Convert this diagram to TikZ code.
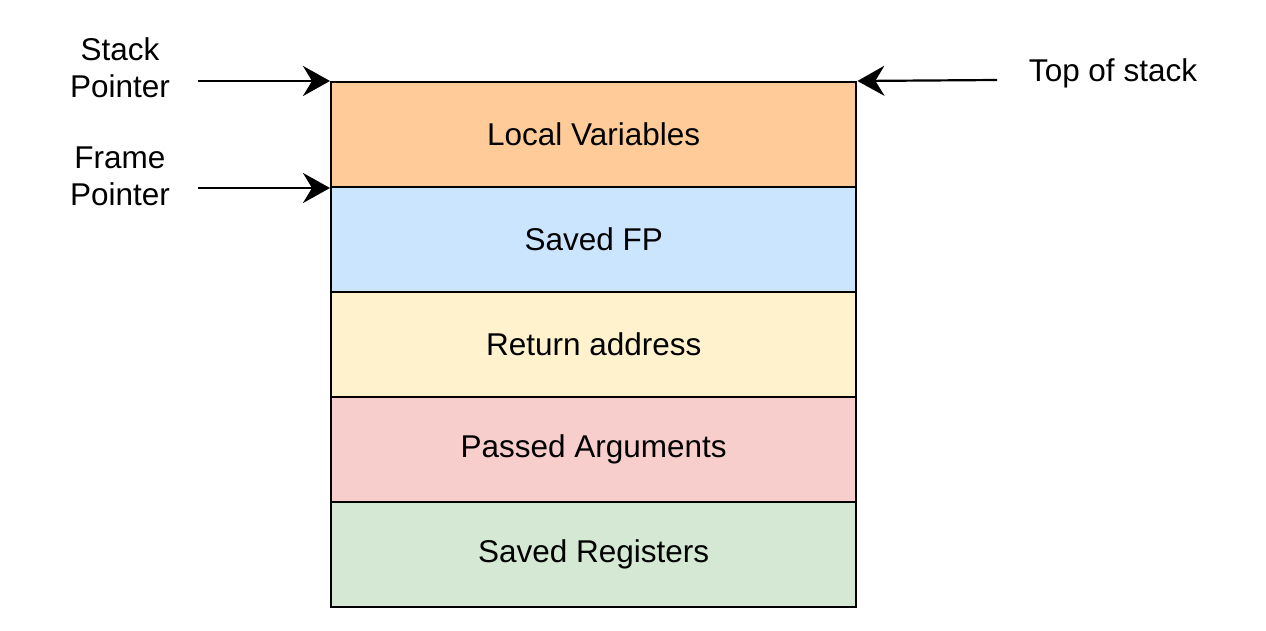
\documentclass[tikz,border=0pt]{standalone}
\usepackage{fontspec}
\setmainfont{Liberation Sans}
\usetikzlibrary{arrows.meta}
\definecolor{cLocal}{HTML}{FFCC99}
\definecolor{cFP}{HTML}{CCE5FF}
\definecolor{cRet}{HTML}{FFF2CC}
\definecolor{cArg}{HTML}{F8CECC}
\definecolor{cReg}{HTML}{D5E8D4}
\tikzset{
  frame/.style={draw=black, line width=2.4pt, minimum width=525pt, minimum height=105pt, inner sep=0pt, font=\fontsize{31.5}{37}\selectfont, anchor=north west},
  lbl/.style={font=\fontsize{31.5}{37}\selectfont, align=center, inner sep=0pt},
  ptr/.style={line width=2.6pt, -{Stealth[length=27pt, width=30pt, inset=9pt]}}
}
\begin{document}
\begin{tikzpicture}[x=1pt, y=-1pt]
\useasboundingbox (0,0) rectangle (1266,631);
\node[frame, fill=cLocal] (lv) at (330,81) {Local Variables};
\node[frame, fill=cFP] (fp) at (330,186) {Saved FP};
\node[frame, fill=cRet] (ra) at (330,291) {Return address};
\node[frame, fill=cArg] (pa) at (330,396) {Passed Arguments};
\node[frame, fill=cReg] (sr) at (330,501) {Saved Registers};
\node[lbl] (sp) at (120,68) {Stack\\Pointer};
\node[lbl] (fpl) at (120,176) {Frame\\Pointer};
\node[lbl] (tos) at (1113,73) {Top of stack};
\coordinate (spS) at (198,81);
\coordinate (fpS) at (198,188);
\coordinate (tosS) at (997,80);
\draw[ptr] (spS) -- (lv.north west);
\draw[ptr] (fpS) -- (fpS -| fp.west);
\draw[ptr, line width=2.2pt] (tosS) -- (lv.north east);
\end{tikzpicture}
\end{document}
